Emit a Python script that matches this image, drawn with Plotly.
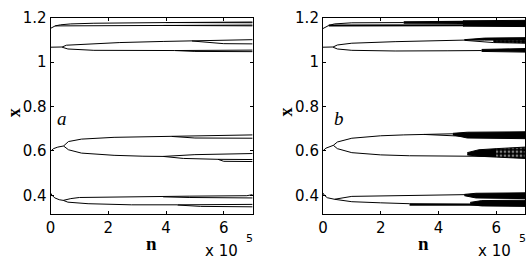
import plotly.graph_objects as go

# n values are in units of 1e5 (axis shows "x 10^5")
X_TICKS = [0, 2, 4, 6]
Y_TICKS = [0.4, 0.6, 0.8, 1.0, 1.2]
Y_TICK_TEXT = ["0.4", "0.6", "0.8", "1", "1.2"]

# ---------------- panel a : branches (n, x) ----------------
a1_up = ([0, 0.08, 0.16, 0.35, 0.7, 1.5, 2.5, 4.0, 7.0],
         [1.152, 1.158, 1.163, 1.168, 1.172, 1.175, 1.177, 1.178, 1.1805])
a1_up2 = ([4.0, 5.0, 7.0], [1.178, 1.1775, 1.1772])
a1_lo = ([0.16, 0.35, 1.0, 2.5, 3.9, 7.0], [1.163, 1.163, 1.164, 1.1645, 1.165, 1.1668])
a1_lo2 = ([3.9, 5.0, 7.0], [1.165, 1.1638, 1.1632])

a2_up = ([0, 0.4, 0.55, 1.4, 2.4, 3.9, 4.9, 5.3, 7.0],
         [1.067, 1.068, 1.076, 1.081, 1.088, 1.093, 1.095, 1.099, 1.101])
a2_up2 = ([4.9, 5.6, 6.0, 7.0], [1.095, 1.088, 1.083, 1.082])
a2_lo = ([0.4, 0.6, 1.5, 3.0, 4.3, 7.0], [1.067, 1.059, 1.053, 1.0515, 1.052, 1.054])
a2_lo2 = ([4.3, 5.0, 7.0], [1.052, 1.048, 1.047])

a3_up = ([0, 0.1, 0.25, 0.45, 0.62, 1.07, 2.2, 3.7, 4.2, 5.8, 7.0],
         [0.598, 0.610, 0.617, 0.622, 0.642, 0.653, 0.661, 0.665, 0.666, 0.670, 0.672])
a3_up2 = ([4.2, 5.0, 7.0], [0.665, 0.658, 0.657])
a3_lo = ([0.45, 0.62, 1.07, 2.2, 3.2, 3.9, 5.0, 5.8, 7.0],
         [0.622, 0.605, 0.590, 0.580, 0.576, 0.575, 0.583, 0.585, 0.588])
a3_lo2 = ([3.9, 4.6, 5.8, 7.0], [0.575, 0.566, 0.562, 0.561])
a3_lo3 = ([5.8, 6.0, 7.0], [0.562, 0.553, 0.552])

a4_up = ([0, 0.05, 0.15, 0.3, 0.44, 0.7, 1.0, 2.5, 3.9, 4.8, 6.8, 7.0],
         [0.410, 0.400, 0.388, 0.380, 0.377, 0.385, 0.390, 0.393, 0.394, 0.396, 0.398, 0.403])
a4_up2 = ([3.9, 4.8, 7.0], [0.393, 0.390, 0.388])
a4_lo = ([0.44, 0.6, 1.3, 2.8, 4.4, 7.0], [0.377, 0.369, 0.362, 0.357, 0.357, 0.359])
a4_lo2 = ([4.4, 5.2, 7.0], [0.356, 0.350, 0.348])

# ---------------- panel b : branches (n, x) ----------------
b1_up = ([0, 0.1, 0.2, 0.4, 1.0, 2.8], [1.151, 1.160, 1.165, 1.172, 1.177, 1.178])
b1_upA = ([2.8, 4.9], [1.1795, 1.182])
b1_upB = ([2.8, 4.9], [1.1775, 1.176])
b1_lo = ([0.2, 0.5, 2.0, 2.8, 4.9], [1.165, 1.165, 1.165, 1.165, 1.166])
b1_chaos = ([4.85, 7.0, 7.0, 4.85], [1.186, 1.188, 1.160, 1.162])

b2_up = ([0, 0.35, 0.5, 1.0, 2.5, 4.0, 4.9], [1.067, 1.068, 1.077, 1.085, 1.092, 1.097, 1.099])
b2_upB = ([4.9, 5.6, 5.9], [1.098, 1.090, 1.088])
b2_chaosU = ([4.9, 5.6, 7.0, 7.0, 5.6, 4.9], [1.101, 1.108, 1.110, 1.099, 1.099, 1.099])
b2_speck = ([5.9, 7.0, 7.0, 5.9], [1.098, 1.099, 1.085, 1.088])
b2_lo = ([0.35, 0.5, 1.0, 2.5, 4.3, 5.5], [1.067, 1.059, 1.053, 1.050, 1.051, 1.052])
b2_chaosL = ([5.5, 7.0, 7.0, 5.5], [1.057, 1.061, 1.045, 1.048])

b3_up = ([0, 0.1, 0.36, 0.5, 1.0, 2.0, 2.8, 3.5, 4.5],
         [0.600, 0.612, 0.625, 0.640, 0.657, 0.668, 0.672, 0.675, 0.677])
b3_upB = ([3.5, 4.5, 5.0], [0.674, 0.669, 0.665])
b3_chaosU = ([4.5, 5.0, 7.0, 7.0, 5.0, 4.5], [0.679, 0.684, 0.686, 0.655, 0.658, 0.672])
b3_lo = ([0.36, 0.5, 1.0, 2.0, 3.0, 4.0, 7.0], [0.625, 0.610, 0.592, 0.582, 0.578, 0.577, 0.574])
b3_chaosL = ([5.0, 5.4, 6.0, 6.0, 5.4, 5.0], [0.592, 0.605, 0.610, 0.572, 0.576, 0.582])
b3_speck = ([6.0, 7.0, 7.0, 6.0], [0.610, 0.617, 0.566, 0.572])

b4_up = ([0, 0.05, 0.15, 0.3, 0.4, 1.0, 2.7, 4.0, 5.0],
         [0.410, 0.400, 0.389, 0.383, 0.382, 0.395, 0.398, 0.402, 0.403])
b4_chaosU = ([4.9, 5.3, 7.0, 7.0, 5.3, 4.9], [0.404, 0.409, 0.411, 0.385, 0.388, 0.398])
b4_lo = ([0.4, 1.0, 2.0, 3.0, 5.2], [0.382, 0.371, 0.366, 0.362, 0.360])
b4_loB = ([3.0, 7.0], [0.357, 0.357])
b4_chaosL = ([5.1, 5.5, 7.0, 7.0, 5.5, 5.1], [0.368, 0.376, 0.378, 0.350, 0.352, 0.358])

lines_a = [a1_up, a1_up2, a1_lo, a1_lo2, a2_up, a2_up2, a2_lo, a2_lo2,
           a3_up, a3_up2, a3_lo, a3_lo2, a3_lo3, a4_up, a4_up2, a4_lo, a4_lo2]
lines_b = [b1_up, b2_up, b2_upB, b2_lo, b3_up, b3_upB, b3_lo, b4_up, b4_lo]
thick_b = [b1_upA, b1_upB, b1_lo, b4_loB]
solid_b = [b1_chaos, b2_chaosU, b2_chaosL, b3_chaosU, b3_chaosL, b4_chaosU, b4_chaosL]
speck_b = [b2_speck, b3_speck]

fig = go.Figure()

def add_line(br, xa, ya, w=1.0):
    fig.add_trace(go.Scatter(x=br[0], y=br[1], mode="lines", xaxis=xa, yaxis=ya,
                             line=dict(color="black", width=w), hoverinfo="skip"))

for br in lines_a:
    add_line(br, "x", "y")
for br in lines_b:
    add_line(br, "x2", "y2")
for br in thick_b:
    add_line(br, "x2", "y2", 2.0)
for br in solid_b:
    fig.add_trace(go.Scatter(x=br[0], y=br[1], mode="lines", fill="toself", fillcolor="black",
                             xaxis="x2", yaxis="y2", line=dict(color="black", width=1),
                             hoverinfo="skip"))
for br in speck_b:
    fig.add_trace(go.Scatter(x=br[0], y=br[1], mode="lines", fill="toself", fillcolor="black",
                             fillpattern=dict(shape=".", fgcolor="white", bgcolor="black",
                                              size=4, solidity=0.35),
                             xaxis="x2", yaxis="y2", line=dict(color="black", width=1),
                             hoverinfo="skip"))

W, H = 526, 260

def fx(px):
    return px / W

def fy(py):
    return 1 - py / H

tickfont = dict(family="DejaVu Sans", size=15, color="black")
common_x = dict(range=[0, 7], tickvals=X_TICKS, ticktext=[str(v) for v in X_TICKS],
                ticks="inside", ticklen=3, tickcolor="black", showline=True, linecolor="black",
                linewidth=1, mirror="ticks", showgrid=False, zeroline=False, tickfont=tickfont)
common_y = dict(range=[0.315, 1.2], tickvals=Y_TICKS, ticktext=Y_TICK_TEXT,
                ticks="inside", ticklen=3, tickcolor="black", showline=True, linecolor="black",
                linewidth=1, mirror="ticks", showgrid=False, zeroline=False, tickfont=tickfont)

ydom = [fy(212.5), fy(9)]
fig.update_layout(
    width=W, height=H, margin=dict(l=0, r=0, t=0, b=0),
    paper_bgcolor="white", plot_bgcolor="white", showlegend=False,
    xaxis=dict(domain=[fx(46), fx(250)], anchor="y", **common_x),
    yaxis=dict(domain=ydom, anchor="x", **common_y),
    xaxis2=dict(domain=[fx(321), fx(525)], anchor="y2", **common_x),
    yaxis2=dict(domain=ydom, anchor="x2", **common_y),
)

def ann(text, px, py, size, family, angle=0, xanchor="center"):
    fig.add_annotation(text=text, x=fx(px), y=fy(py), xref="paper", yref="paper",
                       showarrow=False, textangle=angle, xanchor=xanchor, yanchor="middle",
                       font=dict(family=family, size=size, color="black"))

serif = "Liberation Serif"
for off in (0, 275):
    ann("<b>x</b>", 9 + off, 107, 18, serif, angle=-90)
    ann("<b>n</b>", 148 + off, 243, 19, serif)
    ann("x 10", 219 + off, 251, 15, "DejaVu Sans")
    ann("5", 247 + off, 238, 11, "DejaVu Sans")
ann("<i>a</i>", 58, 113, 19, serif)
ann("<i>b</i>", 337, 113, 19, serif)

fig.write_html("out.html", config={"displayModeBar": False},
               post_script="document.body.style.margin='0';document.body.style.overflow='hidden';")
